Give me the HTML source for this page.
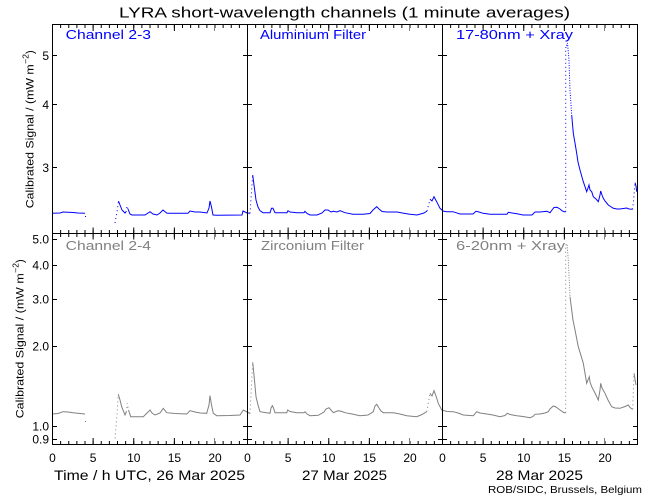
<!DOCTYPE html>
<html><head><meta charset="utf-8"><style>
html,body{margin:0;padding:0;background:#fff;}
body{width:650px;height:500px;overflow:hidden;}
svg{display:block;}
text{font-family:"Liberation Sans",sans-serif;}
</style></head><body>
<svg width="650" height="500" viewBox="0 0 650 500" xmlns="http://www.w3.org/2000/svg">
<rect width="650" height="500" fill="#fff"/>

<!-- blue series -->
<g fill="none" stroke="#0000ff" stroke-width="1">
<polyline points="52,213.3 60,213 63,212 73,212.5 78,213 85,213.3"/>
<polyline points="118.5,201 120,205 122,210 125,213 126,212"/>
<polyline points="128,209 130,214 132,215 145,215 150,211.7 153,214 157,215 160,213 163,210 167,213.3 188,213.3 190,211 195,212 200,212 207,213 209,208 210,201 211.5,207 213,215 217,215.3 242,215 243,211 247,213 250,213.3"/>
<polyline points="252.7,175 254,185 256,200 258,207 260,210.7 263,212.7 270,212.7 271.5,208.3 273,208.3 275,212.7 287,212.7 288,210.7 290,212 297,212.7 304,212.7 305,211.3 307,213.5 310,215 317,215 322,213 325,210 328,210 331,212 333.3,211.3 337,212 340,210.7 345,212.7 353,214.3 363,214.3 370,213.5 373,210 376.7,206.7 379,209 382,211.5 386.7,212 397,212 405,213.5 410,214.3 417,215 424,213 427,211"/>
<polyline points="430,199.3 432,201 434,196.7 436.7,201.7 440,208.3 443,211 446.7,211.7 453,211.7 460,214 473,214 476,211.3 479,212 483,213.3 490,214.3 507,214.3 508.3,212.3 512,213 517,213.7 523,215 532,215 535,212 540,212 547,211.3 550,212.7 552,210 554,207.5 557,207.3 560,209 562,210.7 564,211.7 565.7,211.7"/>
<polyline points="571.7,115 573.3,133.3 575,143 576.7,153.3 578,162 580,170 583.3,181.7 586.7,191.7 588,188 589,185 590,190 591.7,191.7 593.3,196.7 596,199 598.3,201.7 600,195 600.7,191 602,195 603.3,198.3 605,201 608.3,205 613.3,208.3 617,209 620,209 626.7,208 629,209 632.5,209.3"/>
<polyline points="635,182.7 636,186 636.7,191.7"/>
</g>
<g fill="none" stroke="#0000ff" stroke-width="1" stroke-dasharray="1,3">
<polyline points="115,223 117,212 118.5,201"/>
<polyline points="126,212 127,206 128,209"/>
<polyline points="250,213.3 252.7,175"/>
<polyline points="427,211 430,199.3"/>
<polyline points="565.7,211.7 565.7,48"/>
<polyline points="632.5,209.3 633.3,203.3 635,182.7"/>
</g>
<polyline points="565.7,48 567.5,43 569,60 570,90 571.7,115" fill="none" stroke="#0000ff" stroke-width="1" stroke-dasharray="1,1.5"/>
<rect x="85" y="216" width="1" height="1" fill="#0000ff"/>

<!-- gray series -->
<g fill="none" stroke="#808080" stroke-width="1">
<polyline points="52,414 58,413.5 63,411.7 68,412 73,412.7 80,413.5 85,414"/>
<polyline points="118.3,394.3 120,400 121.7,406.7 125,415 126.3,412"/>
<polyline points="128.5,410 130.7,416.7 143.3,416.7 146,414 148,412 150,410 152,413 155,415 160,413 163.3,408.3 166.7,412.7 175,413.5 186.7,414 190,410.7 195,412 200,413 206.7,413.3 209,405 210,395.7 211.5,405 213.3,413.3 216.7,415.7 230,415.5 240,415 243.3,410 247,412 250,413.5"/>
<polyline points="252.7,362.3 254,375 256,396.7 258,405 260,411.7 270,413.3 271,408 272.3,405.7 273.5,408 275,412.7 286.7,412.7 287.7,410 290,411.5 296.7,412.7 304,412.7 305,411.7 307,414 310,415.7 318.3,415.3 324,412 326,409 329,407.7 331,410 333.3,412.7 336,411.5 338.3,410.7 342,411.5 345,412.7 352,414 360,415.7 368,415 373.3,411.7 375,406 376.7,404.3 379,408 381,411 383.3,412.7 393.3,412.7 400,414 406.7,415.7 416.7,416.7 422,414.5 426.7,411.7"/>
<polyline points="430,393.3 432,396 434,390.7 436,396 438.3,403.3 441.7,410 447,411.5 453.3,411.7 458,413 463.3,415 473.3,415.7 476.7,411.7 480,413 486.7,414 493,415 500,416.7 505,415.5 507.3,413.3 510,414.5 516.7,415.7 523,416.5 530,417.7 533,416.5 535,414.3 540,414 545,413 548.3,411.7 550,409 553.3,406 556,407 558,408.5 560,410 564,412.7 565.7,412.7"/>
<polyline points="570,296.7 571.7,310 573,320 575,330 578.3,346.7 583.3,363.3 586.7,383.3 588,380 589.3,376.7 590,382 591.7,386.7 595,393 598.3,400 600,390 600.7,383.3 602,388 605,393.3 608,400 611.7,406.7 615,408 620,408.3 625,406.5 628.3,405 630,407.5 632.7,409.3"/>
<polyline points="634,373.3 636,385"/>
</g>
<g fill="none" stroke="#808080" stroke-width="1" stroke-dasharray="1,3">
<polyline points="115,438.3 117,415 118.3,394.3"/>
<polyline points="126.3,412 127.3,403.3 128.5,410"/>
<polyline points="250,413.5 252.7,362.3"/>
<polyline points="426.7,411.7 430,393.3"/>
<polyline points="565.7,412.7 565.7,245"/>
<polyline points="632.7,409.3 634,373.3"/>
</g>
<polyline points="565.7,245 567,244 568.3,260 570,296.7" fill="none" stroke="#808080" stroke-width="1" stroke-dasharray="1,1.5"/>
<rect x="85" y="421" width="1" height="1" fill="#808080"/>

<!-- frame -->
<g stroke="#000" stroke-width="1" fill="none" shape-rendering="crispEdges">
<path d="M52 24.5H638 M52 233.5H638 M52 444.5H638 M52.5 24V445 M247.5 24V445 M442.5 24V445 M637.5 24V445"/>
</g>
<!-- x ticks minor -->
<g stroke="#000" fill="none">
<line x1="52" y1="26.5" x2="638" y2="26.5" stroke-width="3" stroke-dasharray="1 7.125"/>
<line x1="52" y1="233.5" x2="638" y2="233.5" stroke-width="7" stroke-dasharray="1 7.125"/>
<line x1="52" y1="442.5" x2="638" y2="442.5" stroke-width="3" stroke-dasharray="1 7.125"/>
<!-- major -->
<line x1="52" y1="28" x2="215" y2="28" stroke-width="6" stroke-dasharray="1 39.625"/>
<line x1="247" y1="28" x2="410" y2="28" stroke-width="6" stroke-dasharray="1 39.625"/>
<line x1="442" y1="28" x2="605" y2="28" stroke-width="6" stroke-dasharray="1 39.625"/>
<line x1="52" y1="233.5" x2="215" y2="233.5" stroke-width="12" stroke-dasharray="1 39.625"/>
<line x1="247" y1="233.5" x2="410" y2="233.5" stroke-width="12" stroke-dasharray="1 39.625"/>
<line x1="442" y1="233.5" x2="605" y2="233.5" stroke-width="12" stroke-dasharray="1 39.625"/>
<line x1="52" y1="441" x2="215" y2="441" stroke-width="6" stroke-dasharray="1 39.625"/>
<line x1="247" y1="441" x2="410" y2="441" stroke-width="6" stroke-dasharray="1 39.625"/>
<line x1="442" y1="441" x2="605" y2="441" stroke-width="6" stroke-dasharray="1 39.625"/>
</g>
<!-- y ticks -->
<g stroke="#000" stroke-width="1" fill="none" shape-rendering="crispEdges">
<path d="M52 55.5h5M243 55.5h9M438 55.5h9M633 55.5h5
M52 104.5h5M243 104.5h9M438 104.5h9M633 104.5h5
M52 167.5h5M243 167.5h9M438 167.5h9M633 167.5h5
M52 239.5h5M243 239.5h9M438 239.5h9M633 239.5h5
M52 265.5h5M243 265.5h9M438 265.5h9M633 265.5h5
M52 299.5h5M243 299.5h9M438 299.5h9M633 299.5h5
M52 346.5h5M243 346.5h9M438 346.5h9M633 346.5h5
M52 426.5h5M243 426.5h9M438 426.5h9M633 426.5h5
M52 439.5h5M243 439.5h9M438 439.5h9M633 439.5h5"/>
</g>

<!-- title -->
<text x="119" y="17.5" font-size="15" textLength="451" lengthAdjust="spacingAndGlyphs" fill="#000">LYRA short-wavelength channels (1 minute averages)</text>

<!-- panel labels -->
<g font-size="13" fill="#0000ff">
<text x="65.7" y="39" textLength="85.3" lengthAdjust="spacingAndGlyphs">Channel 2-3</text>
<text x="260" y="39" textLength="106" lengthAdjust="spacingAndGlyphs">Aluminium Filter</text>
<text x="456" y="39" textLength="117" lengthAdjust="spacingAndGlyphs">17-80nm + Xray</text>
</g>
<g font-size="13" fill="#808080">
<text x="65.7" y="250" textLength="85.3" lengthAdjust="spacingAndGlyphs">Channel 2-4</text>
<text x="261" y="250" textLength="103" lengthAdjust="spacingAndGlyphs">Zirconium Filter</text>
<text x="456" y="250" textLength="109" lengthAdjust="spacingAndGlyphs">6-20nm + Xray</text>
</g>

<!-- y tick labels -->
<g font-size="12" fill="#000" text-anchor="end">
<text x="49" y="60">5</text>
<text x="49" y="109">4</text>
<text x="49" y="172">3</text>
<text x="49" y="243.5">5.0</text>
<text x="49" y="269.5">4.0</text>
<text x="49" y="303.5">3.0</text>
<text x="49" y="350.5">2.0</text>
<text x="49" y="430.5">1.0</text>
<text x="49" y="443.5">0.9</text>
</g>

<!-- y axis titles -->
<g fill="#000">
<text transform="translate(33.3,208.3) rotate(-90)" font-size="11" textLength="144" lengthAdjust="spacingAndGlyphs">Calibrated Signal / (mW m</text>
<text transform="translate(28.5,64) rotate(-90)" font-size="8" textLength="10" lengthAdjust="spacingAndGlyphs">−2</text>
<text transform="translate(33.3,54) rotate(-90)" font-size="11">)</text>
<text transform="translate(23.3,418.3) rotate(-90)" font-size="11" textLength="145" lengthAdjust="spacingAndGlyphs">Calibrated Signal / (mW m</text>
<text transform="translate(18.5,273) rotate(-90)" font-size="8" textLength="10" lengthAdjust="spacingAndGlyphs">−2</text>
<text transform="translate(23.3,263) rotate(-90)" font-size="11">)</text>
</g>

<!-- x tick labels -->
<g font-size="12" fill="#000" text-anchor="middle">
<text x="52.5" y="462">0</text>
<text x="93.1" y="462">5</text>
<text x="133.8" y="462">10</text>
<text x="174.4" y="462">15</text>
<text x="215" y="462">20</text>
<text x="247.5" y="462">0</text>
<text x="288.1" y="462">5</text>
<text x="328.8" y="462">10</text>
<text x="369.4" y="462">15</text>
<text x="410" y="462">20</text>
<text x="442.5" y="462">0</text>
<text x="483.1" y="462">5</text>
<text x="523.8" y="462">10</text>
<text x="564.4" y="462">15</text>
<text x="605" y="462">20</text>
</g>

<!-- x axis titles -->
<g font-size="14" fill="#000">
<text x="54" y="480" textLength="191" lengthAdjust="spacingAndGlyphs">Time / h UTC, 26 Mar 2025</text>
<text x="302" y="480" textLength="85" lengthAdjust="spacingAndGlyphs">27 Mar 2025</text>
<text x="496" y="480" textLength="87" lengthAdjust="spacingAndGlyphs">28 Mar 2025</text>
</g>
<text x="488" y="493" font-size="10.5" textLength="154" lengthAdjust="spacingAndGlyphs" fill="#000">ROB/SIDC, Brussels, Belgium</text>
</svg>
</body></html>
